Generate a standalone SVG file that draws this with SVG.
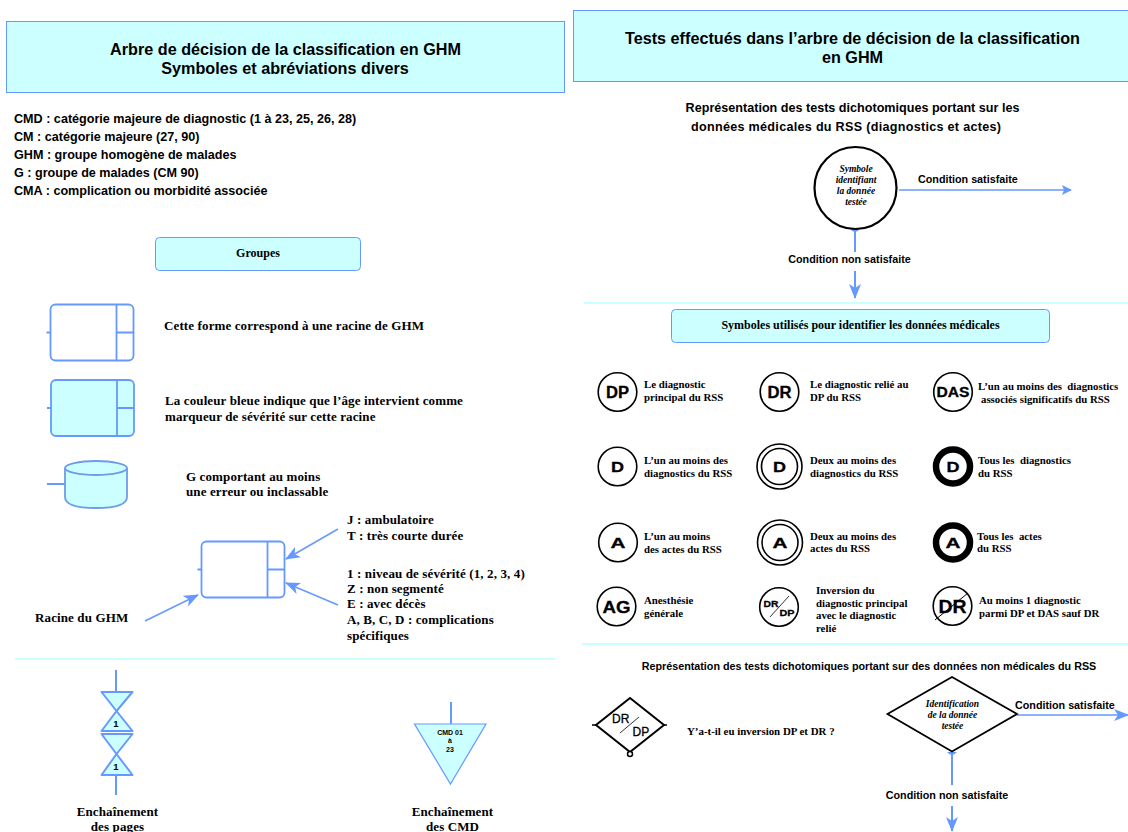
<svg xmlns="http://www.w3.org/2000/svg" width="1128" height="832" viewBox="0 0 1128 832">
<style>
text{fill:#000;font-weight:700;white-space:pre}
.a{font-family:"Liberation Sans",Arial,sans-serif}
.s{font-family:"Liberation Serif","Times New Roman",serif}
.m{text-anchor:middle}
.t{font-size:16.2px}
.l{font-size:12.6px}
.c{font-size:10.76px}
.g{font-size:12px}
.b{font-size:13px;letter-spacing:.12px}
.d{font-size:10.8px}
.i{font-style:italic;font-size:9.5px}
.hd{fill:#ccffff;stroke:#6699ff;stroke-width:1}
.blue{fill:none;stroke:#6699ff;stroke-width:2}
.thin{fill:none;stroke:#6699ff;stroke-width:1.5}
.bk{fill:#fff;stroke:#000;stroke-width:1.6}
.sep{stroke:#ccffff;stroke-width:2}
.sym{font-family:"Liberation Sans",Arial,sans-serif;font-weight:700;text-anchor:middle;stroke:#000;stroke-width:.3}
</style>
<defs>
<marker id="arr" markerWidth="12" markerHeight="10" refX="9" refY="5" orient="auto" markerUnits="userSpaceOnUse"><path d="M0 0L10 5L0 10L2 5Z" fill="#6699ff"/></marker>
<marker id="big" markerWidth="16" markerHeight="14" refX="14" refY="7" orient="auto" markerUnits="userSpaceOnUse"><path d="M0 1L15 7L0 13L4 7Z" fill="#6699ff"/></marker>
<g id="racine"><rect x="0" y="0" width="83" height="56" rx="5" stroke="#6699ff" stroke-width="1.800"/><path d="M66 0V56M66 28H83M-4 28H0" fill="none" stroke="#6699ff" stroke-width="1.800"/></g>
</defs>

<g id="connectors">
<path class="thin" d="M338 529L286 559" marker-end="url(#big)"/>
<path class="thin" d="M338 605L286 583" marker-end="url(#big)"/>
<path class="thin" d="M145 621L198 595" marker-end="url(#big)"/>
<path class="blue" d="M116 670V692M116 775V795M451 702V724"/>
<path class="thin" d="M899 190H1071" marker-end="url(#arr)"/>
<path class="blue" d="M855 229V252M855 271V298" marker-end="url(#big)"/>
<path class="thin" d="M1017 715H1128" marker-end="url(#big)"/>
<path class="blue" d="M952 752V785M952 806V831" marker-end="url(#big)"/>
<path d="M850 229Q855 235 860 229ZM947 752Q952 758 957 752Z" fill="#6699ff"/>
</g>

<g id="header-left"><rect class="hd" x="6.500" y="21.500" width="558" height="71"/>
<text class="a t m" x="285.500" y="55">Arbre de décision de la classification en GHM</text>
<text class="a t m" x="285" y="74">Symboles et abréviations divers</text></g>
<g id="abbr">
<text class="a l" x="14" y="123">CMD : catégorie majeure de diagnostic (1 à 23, 25, 26, 28)</text>
<text class="a l" x="14" y="141">CM : catégorie majeure (27, 90)</text>
<text class="a l" x="14" y="159">GHM : groupe homogène de malades</text>
<text class="a l" x="14" y="177">G : groupe de malades (CM 90)</text>
<text class="a l" x="14" y="195">CMA : complication ou morbidité associée</text>
</g>
<g id="groupes"><rect class="hd" x="155.500" y="237.500" width="205" height="33" rx="4"/><text class="s g m" x="258" y="257">Groupes</text></g>
<g id="racine-blanche"><use href="#racine" x="50.500" y="304.500" fill="#fff"/><text class="s b" x="164" y="330">Cette forme correspond à une racine de GHM</text></g>
<g id="racine-bleue"><use href="#racine" x="51" y="380" fill="#ccffff"/><text class="s b" x="165" y="405">La couleur bleue indique que l’âge intervient comme</text><text class="s b" x="165" y="421">marqueur de sévérité sur cette racine</text></g>
<g id="erreur">
<path d="M65 468V497Q65 508 96 508Q127 508 127 497V468" fill="#ccffff" stroke="#6f9be8" stroke-width="1.800"/>
<ellipse cx="96" cy="468" rx="31" ry="7" fill="#ccffff" stroke="#6f9be8" stroke-width="1.800"/>
<path d="M47 484H65" class="blue"/>
<text class="s b" x="186" y="481">G comportant au moins</text><text class="s b" x="186" y="496">une erreur ou inclassable</text></g>
<g id="racine-legende"><use href="#racine" x="201.500" y="541.500" fill="#fff"/>
<text class="s b" x="347" y="524">J : ambulatoire</text><text class="s b" x="347" y="540">T : très courte durée</text>
<text class="s b" x="347" y="578">1 : niveau de sévérité (1, 2, 3, 4)</text><text class="s b" x="347" y="593">Z : non segmenté</text><text class="s b" x="347" y="608">E : avec décès</text><text class="s b" x="347" y="624">A, B, C, D : complications</text><text class="s b" x="347" y="640">spécifiques</text>
<text class="s b" x="35" y="622">Racine du GHM</text></g>
<path class="sep" d="M15 659H556"/>
<g id="enchainement-pages">
<path d="M101.500 692H132.500L116.500 711L132.500 731H101.500L116.500 711ZM101.500 734H132.500L116.500 754L132.500 775H101.500L116.500 754Z" fill="#ccffff" stroke="#6699ff" stroke-width="2" stroke-linejoin="round"/>
<text class="a m" font-size="9.500" x="116" y="727">1</text><text class="a m" font-size="9.500" x="116" y="770">1</text>
<text class="s b m" x="117.500" y="816">Enchaînement</text><text class="s b m" x="117.500" y="831">des pages</text></g>
<g id="enchainement-cmd">
<path d="M414.500 724H486L450.500 784Z" fill="#ccffff" stroke="#6699ff" stroke-width="1.200"/>
<text class="a m" font-size="7" x="450" y="735">CMD 01</text><text class="a m" font-size="7" x="450" y="743">à</text><text class="a m" font-size="7" x="450" y="752">23</text>
<text class="s b m" x="452.500" y="816">Enchaînement</text><text class="s b m" x="452.500" y="831">des CMD</text></g>

<g id="header-right"><rect class="hd" x="573.500" y="10.500" width="555" height="71"/>
<text class="a t m" x="852.500" y="44">Tests effectués dans l’arbre de décision de la classification</text>
<text class="a t m" x="852.500" y="63">en GHM</text></g>
<g id="sous-titre"><text class="a l m" x="852.500" y="112">Représentation des tests dichotomiques portant sur les</text><text class="a l m" x="846" y="131" textLength="310" lengthAdjust="spacing">données médicales du RSS (diagnostics et actes)</text></g>
<g id="test-cercle"><circle cx="855.500" cy="188" r="41" fill="#fff" stroke="#000" stroke-width="2.200"/>
<text class="s i m" x="856" y="172">Symbole</text><text class="s i m" x="856" y="183">identifiant</text><text class="s i m" x="856" y="194">la donnée</text><text class="s i m" x="856" y="205">testée</text>
<text class="a c" x="918" y="183">Condition satisfaite</text><text class="a c m" x="849.500" y="263">Condition non satisfaite</text></g>
<path class="sep" d="M584 303H1128"/>
<g id="symboles-titre"><rect class="hd" x="671.500" y="309.500" width="378" height="33" rx="4"/><text class="s g m" x="860.500" y="329">Symboles utilisés pour identifier les données médicales</text></g>

<g id="DP"><circle class="bk" cx="617.500" cy="392" r="19.300"/><text class="sym" font-size="16" x="617.500" y="398" textLength="23" lengthAdjust="spacingAndGlyphs">DP</text><text class="s d" x="644" y="388">Le diagnostic</text><text class="s d" x="644" y="401">principal du RSS</text></g>
<g id="DR"><circle class="bk" cx="779.500" cy="392" r="19.300"/><text class="sym" font-size="16" x="779.500" y="398" textLength="24" lengthAdjust="spacingAndGlyphs">DR</text><text class="s d" x="810" y="388">Le diagnostic relié au</text><text class="s d" x="810" y="401">DP du RSS</text></g>
<g id="DAS"><circle class="bk" cx="953" cy="392" r="19.300"/><text class="sym" font-size="14" x="953" y="397" textLength="33" lengthAdjust="spacingAndGlyphs">DAS</text><text class="s d" x="978" y="390">L’un au moins des  diagnostics</text><text class="s d" x="981" y="403">associés significatifs du RSS</text></g>
<g id="D1"><circle class="bk" cx="617.500" cy="466.500" r="19.300"/><text class="sym" font-size="15" x="617.500" y="472" textLength="13" lengthAdjust="spacingAndGlyphs">D</text><text class="s d" x="644" y="464">L’un au moins des</text><text class="s d" x="644" y="477">diagnostics du RSS</text></g>
<g id="D2"><circle class="bk" cx="779.500" cy="466.500" r="22.500"/><circle class="bk" cx="779.500" cy="466.500" r="18"/><text class="sym" font-size="15" x="779.500" y="472" textLength="13" lengthAdjust="spacingAndGlyphs">D</text><text class="s d" x="810" y="464">Deux au moins des</text><text class="s d" x="810" y="477">diagnostics du RSS</text></g>
<g id="D3"><circle cx="953" cy="466.500" r="17" fill="#fff" stroke="#000" stroke-width="6.500"/><text class="sym" font-size="15" x="953" y="472" textLength="13" lengthAdjust="spacingAndGlyphs">D</text><text class="s d" x="978" y="464">Tous les  diagnostics</text><text class="s d" x="978" y="477">du RSS</text></g>
<g id="A1"><circle class="bk" cx="618" cy="542.500" r="19.300"/><text class="sym" font-size="14" x="618" y="548" textLength="15" lengthAdjust="spacingAndGlyphs">A</text><text class="s d" x="644" y="540">L’un au moins</text><text class="s d" x="644" y="553">des actes du RSS</text></g>
<g id="A2"><circle class="bk" cx="780" cy="542.500" r="22.500"/><circle class="bk" cx="780" cy="542.500" r="18"/><text class="sym" font-size="14" x="780" y="548" textLength="15" lengthAdjust="spacingAndGlyphs">A</text><text class="s d" x="810" y="540">Deux au moins des</text><text class="s d" x="810" y="552">actes du RSS</text></g>
<g id="A3"><circle cx="953" cy="542.500" r="17" fill="#fff" stroke="#000" stroke-width="6.500"/><text class="sym" font-size="14" x="953" y="548" textLength="15" lengthAdjust="spacingAndGlyphs">A</text><text class="s d" x="977" y="540">Tous les  actes</text><text class="s d" x="977" y="552">du RSS</text></g>
<g id="AG"><circle class="bk" cx="616.500" cy="606.500" r="19.300"/><text class="sym" font-size="17" x="616.500" y="612.500" textLength="28" lengthAdjust="spacingAndGlyphs">AG</text><text class="s d" x="644" y="604">Anesthésie</text><text class="s d" x="644" y="617">générale</text></g>
<g id="inversion"><circle class="bk" cx="779" cy="607" r="19.300"/><path d="M770 617L789 596" stroke="#000" stroke-width="0.800"/><text class="sym" font-size="9.500" x="771" y="606.500" textLength="15" lengthAdjust="spacingAndGlyphs">DR</text><text class="sym" font-size="9.500" x="787" y="615.500" textLength="15" lengthAdjust="spacingAndGlyphs">DP</text><text class="s d" x="816" y="594">Inversion du</text><text class="s d" x="816" y="607">diagnostic principal</text><text class="s d" x="816" y="619">avec le diagnostic</text><text class="s d" x="816" y="632">relié</text></g>
<g id="DR-barre"><circle class="bk" cx="952.500" cy="606" r="19.300"/><text class="sym" font-size="18" x="952.500" y="613" textLength="28" lengthAdjust="spacingAndGlyphs">DR</text><path d="M935 620L968 593" stroke="#000" stroke-width="1"/><text class="s d" x="979" y="604">Au moins 1 diagnostic</text><text class="s d" x="979" y="617">parmi DP et DAS sauf DR</text></g>
<path class="sep" d="M582 644H1128"/>
<g id="non-medicales"><text class="a c m" x="869" y="670">Représentation des tests dichotomiques portant sur des données non médicales du RSS</text></g>
<g id="losange-DR-DP"><path class="bk" d="M630 698L664 725L630 752L596 725Z" style="stroke-width:2"/><path d="M592 725H596M664 725H667M630 752V754" stroke="#000" stroke-width="1.500"/><circle cx="630" cy="754" r="2.500" fill="#fff" stroke="#000" stroke-width="1.500"/><path d="M620 733L639 717" stroke="#000" stroke-width="0.800"/>
<text class="a" style="font-weight:400;stroke:#000;stroke-width:.3" font-size="12" x="612" y="723">DR</text><text class="a" style="font-weight:400;stroke:#000;stroke-width:.3" font-size="12" x="632.500" y="735.500">DP</text>
<text class="s d" style="font-size:10.9px" x="687" y="735">Y’a-t-il eu inversion DP et DR ?</text></g>
<g id="test-losange"><path d="M952 677L1017 714L952 751.500L887.500 714Z" fill="#fff" stroke="#000" stroke-width="1.800"/>
<text class="s i m" x="952.500" y="707">Identification</text><text class="s i m" x="952.500" y="718">de la donnée</text><text class="s i m" x="952.500" y="729">testée</text>
<text class="a c" x="1015" y="709">Condition satisfaite</text><text class="a c m" x="947" y="799">Condition non satisfaite</text></g>
</svg>
